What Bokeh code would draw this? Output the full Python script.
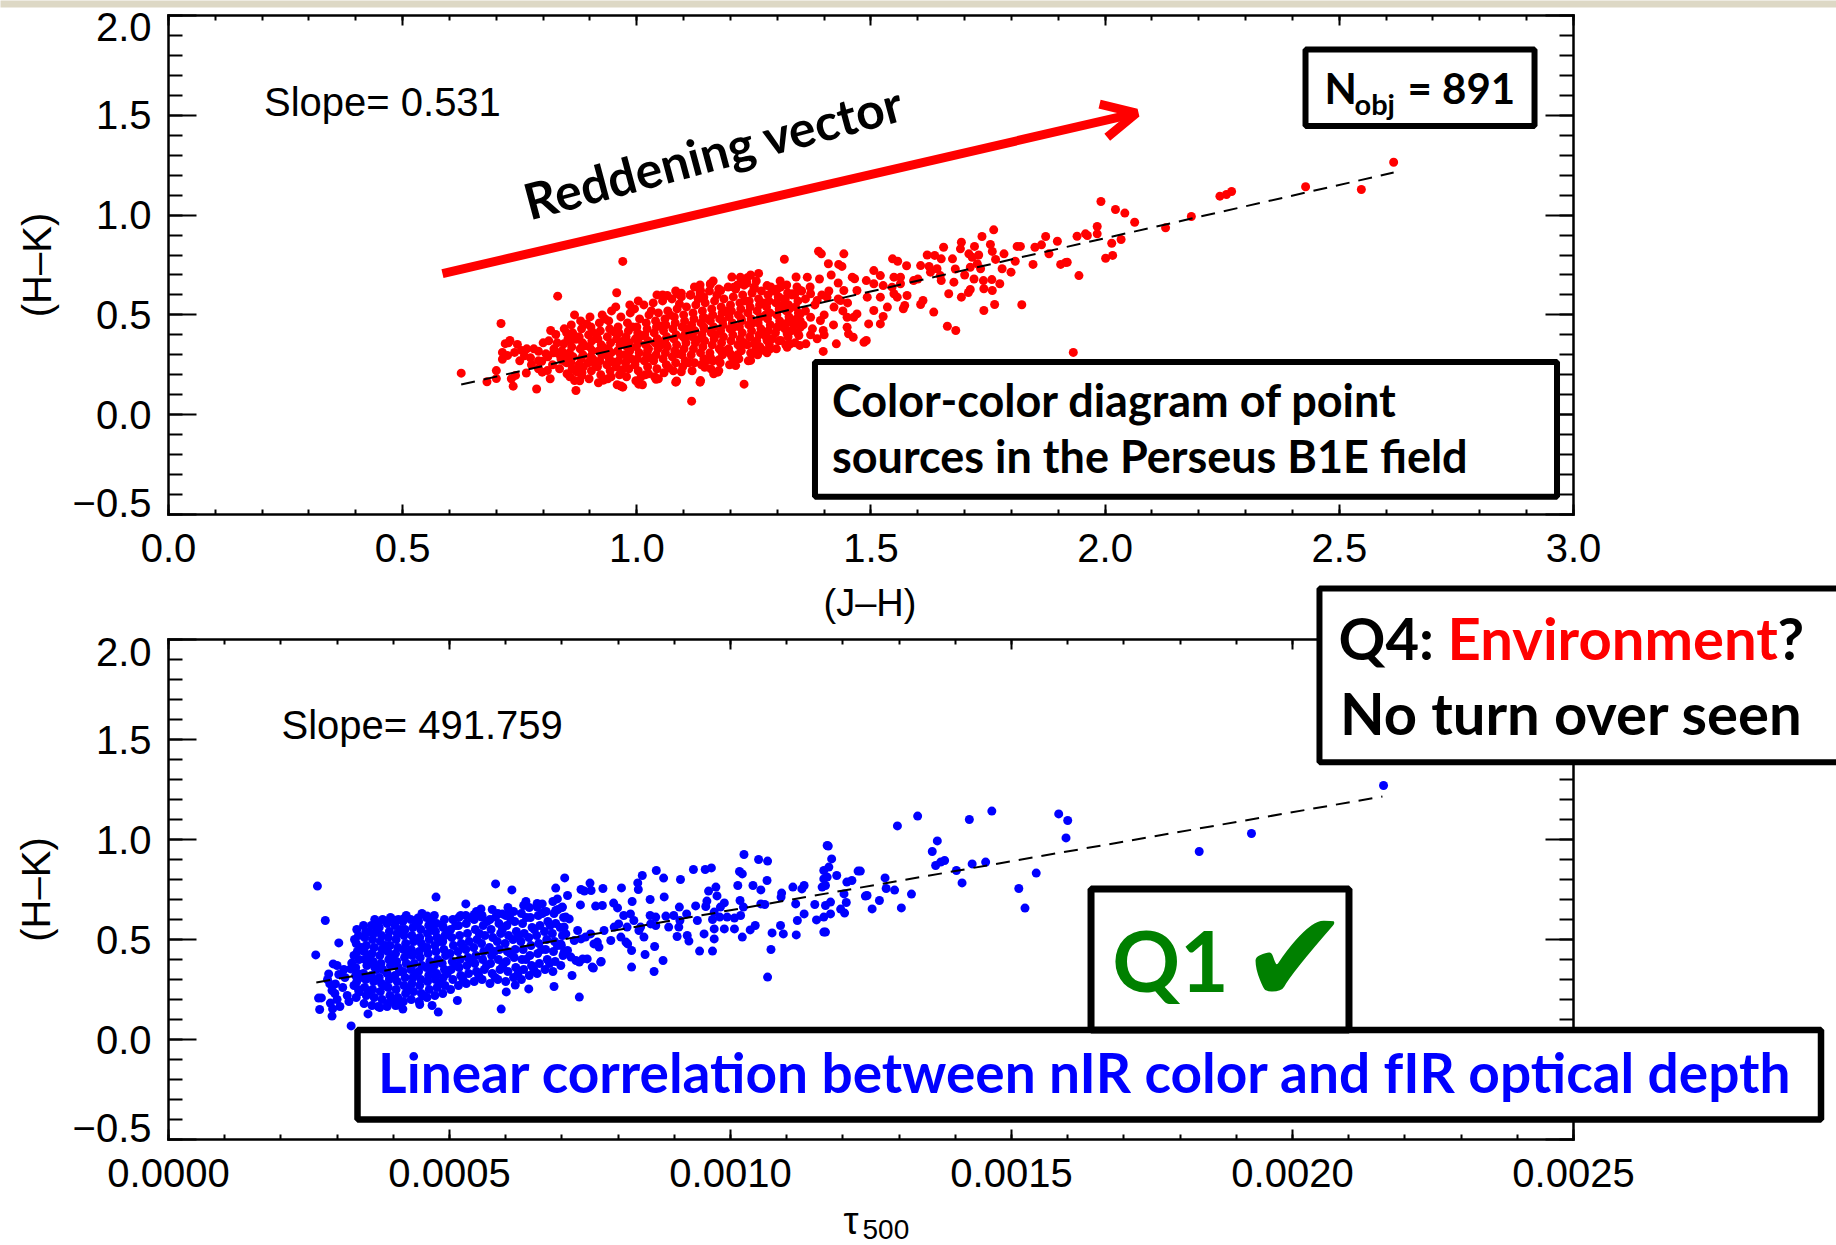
from bokeh.plotting import figure
from bokeh.models import (Range1d, LinearAxis, FixedTicker, CustomJSTickFormatter,
                          BoxAnnotation, Label, Arrow, OpenHead)
from bokeh.layouts import column
from bokeh.embed import file_html
from bokeh.resources import INLINE

# ---------------- data: top panel, (J-H) vs (H-K) ----------------
jh_tail = [
    (0.625, 0.208), (0.680, 0.165), (0.700, 0.221), (0.700, 0.181), (0.710, 0.457), (0.713, 0.278),
    (0.713, 0.312), (0.719, 0.356), (0.726, 0.360), (0.729, 0.372), (0.745, 0.352), (0.739, 0.312),
    (0.754, 0.322), (0.724, 0.297), (0.741, 0.197), (0.736, 0.143), (0.732, 0.180), (0.786, 0.129),
    (0.764, 0.209), (0.760, 0.295), (0.773, 0.285), (0.790, 0.318), (0.806, 0.305), (0.823, 0.330),
    (0.797, 0.268), (0.809, 0.221), (0.798, 0.213), (0.816, 0.422), (0.827, 0.402), (0.850, 0.410),
    (0.831, 0.594), (0.844, 0.355), (0.833, 0.305), (0.841, 0.272), (0.851, 0.205), (0.867, 0.171),
    (0.870, 0.121), (0.867, 0.500), (0.870, 0.378), (0.780, 0.330), (0.790, 0.270), (0.800, 0.360),
    (0.810, 0.290), (0.820, 0.250), (0.830, 0.360), (0.840, 0.320), (0.850, 0.260), (0.853, 0.380),
    (0.790, 0.230), (0.815, 0.180), (0.835, 0.230), (0.845, 0.430), (0.775, 0.250), (0.765, 0.330),
    (0.750, 0.270), (0.822, 0.310), (0.838, 0.280), (0.812, 0.370), (0.848, 0.300),
    (0.957, 0.611), (0.970, 0.768), (0.970, 0.138), (1.012, 0.150), (1.046, 0.180), (1.083, 0.163),
    (1.117, 0.068), (1.085, 0.169), (1.041, 0.177), (1.004, 0.153), (0.966, 0.144), (0.929, 0.173),
    (1.135, 0.163), (1.173, 0.213), (1.229, 0.153), (1.065, 0.597), (1.088, 0.606), (1.115, 0.601),
    (1.136, 0.622), (1.157, 0.652), (1.223, 0.679), (1.229, 0.649), (1.260, 0.708), (1.315, 0.779),
    (1.095, 0.609), (1.114, 0.599),
]

jh_core = [
    (0.857, 0.19), (0.862, 0.23), (0.859, 0.26), (0.864, 0.29), (0.856, 0.31), (0.861, 0.34), (0.858, 0.37),
    (0.863, 0.41), (0.860, 0.45), (0.855, 0.27),
    (0.878, 0.17), (0.883, 0.21), (0.876, 0.25), (0.881, 0.28), (0.885, 0.30), (0.879, 0.33), (0.884, 0.36),
    (0.877, 0.39), (0.882, 0.43), (0.880, 0.47), (0.886, 0.24),
    (0.898, 0.18), (0.903, 0.22), (0.896, 0.26), (0.901, 0.29), (0.905, 0.32), (0.899, 0.34), (0.904, 0.37),
    (0.897, 0.40), (0.902, 0.44), (0.900, 0.49), (0.906, 0.28),
    (0.918, 0.16), (0.923, 0.20), (0.916, 0.24), (0.921, 0.27), (0.925, 0.30), (0.919, 0.32), (0.924, 0.35),
    (0.917, 0.38), (0.922, 0.42), (0.920, 0.46), (0.926, 0.50),
    (0.938, 0.18), (0.943, 0.22), (0.936, 0.25), (0.941, 0.28), (0.945, 0.31), (0.939, 0.33), (0.944, 0.36),
    (0.937, 0.39), (0.942, 0.43), (0.940, 0.47), (0.946, 0.52), (0.935, 0.30),
    (0.958, 0.15), (0.963, 0.20), (0.956, 0.24), (0.961, 0.27), (0.965, 0.30), (0.959, 0.32), (0.964, 0.35),
    (0.957, 0.38), (0.962, 0.41), (0.960, 0.44), (0.966, 0.49), (0.955, 0.54),
    (0.978, 0.19), (0.983, 0.23), (0.976, 0.26), (0.981, 0.29), (0.985, 0.32), (0.979, 0.34), (0.984, 0.36),
    (0.977, 0.39), (0.982, 0.42), (0.980, 0.46), (0.986, 0.51), (0.975, 0.30),
    (0.998, 0.17), (1.003, 0.22), (0.996, 0.25), (1.001, 0.28), (1.005, 0.31), (0.999, 0.34), (1.004, 0.36),
    (0.997, 0.38), (1.002, 0.41), (1.000, 0.44), (1.006, 0.48), (0.995, 0.53), (1.003, 0.57),
    (1.018, 0.20), (1.023, 0.24), (1.016, 0.27), (1.021, 0.30), (1.025, 0.33), (1.019, 0.35), (1.024, 0.37),
    (1.017, 0.40), (1.022, 0.43), (1.020, 0.46), (1.026, 0.50), (1.015, 0.55), (1.023, 0.32),
    (1.038, 0.19), (1.043, 0.23), (1.036, 0.27), (1.041, 0.30), (1.045, 0.33), (1.039, 0.36), (1.044, 0.38),
    (1.037, 0.41), (1.042, 0.44), (1.040, 0.47), (1.046, 0.51), (1.035, 0.56), (1.043, 0.60),
    (1.058, 0.21), (1.063, 0.25), (1.056, 0.28), (1.061, 0.31), (1.065, 0.34), (1.059, 0.37), (1.064, 0.39),
    (1.057, 0.42), (1.062, 0.45), (1.060, 0.48), (1.066, 0.52), (1.055, 0.57), (1.063, 0.35),
    (1.078, 0.22), (1.083, 0.26), (1.076, 0.29), (1.081, 0.32), (1.085, 0.35), (1.079, 0.38), (1.084, 0.40),
    (1.077, 0.43), (1.082, 0.46), (1.080, 0.49), (1.086, 0.53), (1.075, 0.58), (1.083, 0.62),
    (1.098, 0.24), (1.103, 0.27), (1.096, 0.30), (1.101, 0.33), (1.105, 0.36), (1.099, 0.39), (1.104, 0.41),
    (1.097, 0.44), (1.102, 0.47), (1.100, 0.50), (1.106, 0.54), (1.095, 0.59), (1.103, 0.38),
    (1.118, 0.22), (1.123, 0.26), (1.116, 0.30), (1.121, 0.33), (1.125, 0.36), (1.119, 0.39), (1.124, 0.42),
    (1.117, 0.45), (1.122, 0.48), (1.120, 0.51), (1.126, 0.55), (1.115, 0.60), (1.123, 0.64),
    (1.138, 0.25), (1.143, 0.28), (1.136, 0.31), (1.141, 0.34), (1.145, 0.37), (1.139, 0.40), (1.144, 0.43),
    (1.137, 0.46), (1.142, 0.49), (1.140, 0.52), (1.146, 0.56), (1.135, 0.61), (1.143, 0.44),
    (1.158, 0.23), (1.163, 0.27), (1.156, 0.31), (1.161, 0.35), (1.165, 0.38), (1.159, 0.41), (1.164, 0.44),
    (1.157, 0.47), (1.162, 0.50), (1.160, 0.53), (1.166, 0.57), (1.155, 0.62), (1.163, 0.67),
    (1.178, 0.26), (1.183, 0.30), (1.176, 0.33), (1.181, 0.36), (1.185, 0.39), (1.179, 0.42), (1.184, 0.45),
    (1.177, 0.48), (1.182, 0.51), (1.180, 0.54), (1.186, 0.58), (1.175, 0.63), (1.183, 0.47),
    (1.198, 0.25), (1.203, 0.29), (1.196, 0.33), (1.201, 0.37), (1.205, 0.40), (1.199, 0.43), (1.204, 0.46),
    (1.197, 0.49), (1.202, 0.52), (1.200, 0.55), (1.206, 0.59), (1.195, 0.64), (1.203, 0.69),
    (1.218, 0.28), (1.223, 0.32), (1.216, 0.35), (1.221, 0.38), (1.225, 0.41), (1.219, 0.44), (1.224, 0.47),
    (1.217, 0.50), (1.222, 0.53), (1.220, 0.56), (1.226, 0.60), (1.215, 0.65), (1.223, 0.48),
    (1.238, 0.27), (1.243, 0.31), (1.236, 0.35), (1.241, 0.39), (1.245, 0.42), (1.239, 0.45), (1.244, 0.48),
    (1.237, 0.51), (1.242, 0.54), (1.240, 0.57), (1.246, 0.61), (1.235, 0.66), (1.243, 0.70),
    (1.258, 0.30), (1.263, 0.34), (1.256, 0.37), (1.261, 0.40), (1.265, 0.43), (1.259, 0.46), (1.264, 0.49),
    (1.257, 0.52), (1.262, 0.55), (1.260, 0.58), (1.266, 0.62), (1.255, 0.67),
    (1.278, 0.31), (1.283, 0.35), (1.276, 0.39), (1.281, 0.42), (1.285, 0.45), (1.279, 0.48), (1.284, 0.51),
    (1.277, 0.54), (1.282, 0.57), (1.280, 0.60), (1.286, 0.64), (1.275, 0.50),
    (1.298, 0.33), (1.303, 0.37), (1.296, 0.41), (1.301, 0.44), (1.305, 0.47), (1.299, 0.50), (1.304, 0.53),
    (1.297, 0.56), (1.302, 0.59), (1.300, 0.63), (1.306, 0.67),
    (1.318, 0.35), (1.323, 0.39), (1.316, 0.43), (1.321, 0.46), (1.325, 0.49), (1.319, 0.52), (1.324, 0.55),
    (1.317, 0.58), (1.322, 0.61), (1.320, 0.65), (1.326, 0.53),
    (1.338, 0.36), (1.343, 0.41), (1.336, 0.45), (1.341, 0.48), (1.345, 0.51), (1.339, 0.54), (1.344, 0.57),
    (1.337, 0.60), (1.342, 0.64), (1.340, 0.69),
]

jh_core_extra = [
    (0.871, 0.215), (0.889, 0.345), (0.893, 0.455), (0.911, 0.255), (0.914, 0.395), (0.929, 0.335),
    (0.932, 0.480), (0.948, 0.265), (0.951, 0.415), (0.969, 0.225), (0.972, 0.370), (0.988, 0.280),
    (0.991, 0.440), (1.009, 0.190), (1.011, 0.395), (1.028, 0.285), (1.031, 0.520), (1.049, 0.345),
    (1.051, 0.445), (1.068, 0.235), (1.071, 0.500), (1.089, 0.305), (1.091, 0.555), (1.108, 0.430),
    (1.111, 0.260), (1.129, 0.375), (1.131, 0.580), (1.149, 0.270), (1.151, 0.480), (1.168, 0.400),
    (1.171, 0.600), (1.189, 0.320), (1.191, 0.520), (1.208, 0.440), (1.211, 0.630), (1.229, 0.360),
    (1.231, 0.570), (1.248, 0.460), (1.251, 0.640), (1.268, 0.410), (1.271, 0.560), (1.289, 0.380),
    (1.291, 0.620), (1.309, 0.450), (1.311, 0.550), (1.329, 0.420), (1.331, 0.600), (1.349, 0.470),
    (1.352, 0.620), (0.882, 0.195), (0.905, 0.415), (0.945, 0.190), (0.985, 0.550), (1.025, 0.205),
    (1.055, 0.600), (1.095, 0.215), (1.135, 0.650), (1.175, 0.275), (1.215, 0.300), (1.255, 0.330),
]

jh_mid = [
    (1.388, 0.819), (1.394, 0.806), (1.442, 0.806), (1.409, 0.756), (1.431, 0.753), (1.438, 0.743),
    (1.546, 0.781), (1.557, 0.769), (1.576, 0.746), (1.655, 0.839), (1.636, 0.798), (1.650, 0.781),
    (1.674, 0.781), (1.693, 0.864), (1.691, 0.831), (1.709, 0.806), (1.606, 0.747), (1.624, 0.743),
    (1.641, 0.731), (1.627, 0.714), (1.648, 0.697), (1.650, 0.672), (1.677, 0.664), (1.666, 0.606),
    (1.693, 0.589), (1.708, 0.612), (1.611, 0.572), (1.606, 0.552), (1.634, 0.514), (1.663, 0.443),
    (1.681, 0.422), (1.569, 0.531), (1.572, 0.547), (1.577, 0.597), (1.506, 0.722), (1.520, 0.697),
    (1.549, 0.689), (1.563, 0.689), (1.460, 0.689), (1.465, 0.681), (1.463, 0.488), (1.495, 0.455),
    (1.520, 0.455), (1.526, 0.492), (1.485, 0.363), (1.490, 0.372), (1.462, 0.388), (1.452, 0.405),
    (1.449, 0.438), (1.426, 0.355), (1.428, 0.252), (1.398, 0.317), (1.398, 0.422), (1.371, 0.400),
    (1.361, 0.355), (1.346, 0.397), (1.348, 0.347), (1.328, 0.355), (1.321, 0.338), (1.285, 0.330),
    (1.271, 0.322), (1.264, 0.330), (1.243, 0.272), (1.246, 0.305), (1.211, 0.246), (1.164, 0.205),
    (1.175, 0.221), (1.145, 0.238), (1.136, 0.171),
    (1.490, 0.672), (1.506, 0.656), (1.526, 0.647), (1.545, 0.639), (1.563, 0.656), (1.591, 0.672),
    (1.549, 0.606), (1.520, 0.589), (1.492, 0.589), (1.470, 0.622), (1.442, 0.622), (1.435, 0.572),
    (1.421, 0.539), (1.406, 0.589), (1.385, 0.572), (1.371, 0.606), (1.364, 0.689), (1.349, 0.622),
    (1.332, 0.606), (1.307, 0.639), (1.304, 0.589), (1.278, 0.647), (1.250, 0.631), (1.221, 0.689),
    (1.236, 0.686), (1.207, 0.639), (1.179, 0.622), (1.157, 0.656), (1.143, 0.589), (1.449, 0.488),
    (1.470, 0.505), (1.506, 0.522), (1.535, 0.539), (1.556, 0.589), (1.392, 0.472), (1.371, 0.488),
    (1.349, 0.505), (1.328, 0.472), (1.349, 0.438), (1.321, 0.405), (1.300, 0.438), (1.307, 0.372),
    (1.278, 0.372), (1.250, 0.355), (1.221, 0.338), (1.200, 0.305), (1.179, 0.322), (1.157, 0.288),
    (1.207, 0.272), (1.360, 0.520), (1.380, 0.550), (1.400, 0.500), (1.410, 0.620), (1.420, 0.450),
    (1.430, 0.660), (1.440, 0.520), (1.370, 0.640), (1.390, 0.680), (1.415, 0.700), (1.355, 0.450),
    (1.375, 0.430), (1.395, 0.600), (1.430, 0.580), (1.450, 0.560), (1.360, 0.580), (1.400, 0.400),
    (1.385, 0.380),
]

jh_far = [
    (1.991, 1.068), (2.022, 1.028), (2.042, 1.010), (2.063, 0.964), (2.245, 1.095), (2.259, 1.103),
    (2.270, 1.118), (2.184, 0.993), (2.129, 0.936), (1.983, 0.943), (1.983, 0.906), (1.962, 0.898),
    (1.958, 0.906), (1.940, 0.894), (2.034, 0.878), (2.014, 0.859), (2.016, 0.798), (2.001, 0.784),
    (1.919, 0.764), (1.905, 0.753), (1.944, 0.697), (1.898, 0.869), (1.873, 0.893), (1.880, 0.806),
    (1.864, 0.851), (1.850, 0.839), (1.819, 0.843), (1.812, 0.843), (1.846, 0.753), (1.808, 0.769),
    (1.784, 0.806), (1.766, 0.778), (1.762, 0.926), (1.737, 0.893), (1.721, 0.843), (1.755, 0.853),
    (1.759, 0.818), (1.799, 0.714), (1.775, 0.656), (1.780, 0.731), (1.758, 0.677), (1.740, 0.672),
    (1.741, 0.631), (1.759, 0.622), (1.712, 0.627), (1.716, 0.789), (1.727, 0.756), (1.734, 0.731),
    (1.712, 0.739), (1.764, 0.552), (1.741, 0.522), (1.822, 0.551), (1.932, 0.312), (1.916, 0.763),
    (2.428, 1.142), (2.547, 1.128), (2.616, 1.265), (1.620, 0.800), (1.600, 0.680), (1.680, 0.730),
    (1.700, 0.700), (1.720, 0.680), (1.730, 0.800),
]

jh_fit_x = [0.625, 2.616]
jh_fit_y = [0.151, 1.213]

# ---------------- data: bottom panel, tau_500 vs (H-K) ----------------
tau_edge = [
    (0.000265, 0.767), (0.000279, 0.595), (0.000303, 0.483), (0.000262, 0.423), (0.000293, 0.378),
    (0.000300, 0.370), (0.000285, 0.328), (0.000303, 0.325), (0.000287, 0.278), (0.000291, 0.245),
    (0.000297, 0.278), (0.000267, 0.207), (0.000272, 0.208), (0.000269, 0.150), (0.000291, 0.117),
    (0.000292, 0.153), (0.000288, 0.182), (0.000326, 0.382), (0.000324, 0.353), (0.000321, 0.190),
    (0.000339, 0.237), (0.000325, 0.068), (0.000283, 0.300), (0.000296, 0.230), (0.000300, 0.200),
    (0.000310, 0.260), (0.000314, 0.310), (0.000318, 0.220), (0.000305, 0.165), (0.000312, 0.350),
    (0.000330, 0.270), (0.000333, 0.320), (0.000330, 0.420), (0.000331, 0.500),
    (0.000355, 0.128), (0.000373, 0.165), (0.000389, 0.165), (0.000407, 0.172), (0.000417, 0.152),
    (0.000447, 0.175), (0.000469, 0.170), (0.000480, 0.137), (0.000514, 0.195), (0.000592, 0.152),
    (0.000601, 0.238), (0.000617, 0.272), (0.000641, 0.253), (0.000686, 0.265),
    (0.000476, 0.712), (0.000582, 0.778), (0.000611, 0.748), (0.000689, 0.757), (0.000529, 0.678),
    (0.000556, 0.653), (0.000636, 0.690), (0.000656, 0.662), (0.000665, 0.678), (0.000668, 0.637),
    (0.000692, 0.703), (0.000689, 0.645), (0.000357, 0.537), (0.000373, 0.578), (0.000401, 0.598),
    (0.000418, 0.603), (0.000444, 0.608), (0.000460, 0.618), (0.000466, 0.598), (0.000487, 0.575),
    (0.000517, 0.612), (0.000529, 0.620), (0.000544, 0.625), (0.000557, 0.612), (0.000582, 0.612),
    (0.000594, 0.628), (0.000608, 0.637),
]

tau_core = [
    (0.000334, 0.21), (0.000338, 0.25), (0.000335, 0.29), (0.000337, 0.33), (0.000333, 0.36), (0.000339, 0.40),
    (0.000336, 0.44), (0.000334, 0.48), (0.000338, 0.52), (0.000335, 0.55),
    (0.000348, 0.18), (0.000352, 0.22), (0.000349, 0.26), (0.000351, 0.30), (0.000347, 0.33), (0.000353, 0.37),
    (0.000350, 0.40), (0.000348, 0.44), (0.000352, 0.47), (0.000349, 0.51), (0.000351, 0.54), (0.000347, 0.57),
    (0.000362, 0.17), (0.000366, 0.21), (0.000363, 0.25), (0.000365, 0.29), (0.000361, 0.32), (0.000367, 0.36),
    (0.000364, 0.39), (0.000362, 0.43), (0.000366, 0.46), (0.000363, 0.50), (0.000365, 0.53), (0.000361, 0.57),
    (0.000367, 0.60),
    (0.000376, 0.16), (0.000380, 0.20), (0.000377, 0.24), (0.000379, 0.28), (0.000375, 0.31), (0.000381, 0.35),
    (0.000378, 0.38), (0.000376, 0.42), (0.000380, 0.45), (0.000377, 0.49), (0.000379, 0.52), (0.000375, 0.56),
    (0.000381, 0.60),
    (0.000390, 0.18), (0.000394, 0.22), (0.000391, 0.26), (0.000393, 0.30), (0.000389, 0.33), (0.000395, 0.37),
    (0.000392, 0.40), (0.000390, 0.44), (0.000394, 0.47), (0.000391, 0.51), (0.000393, 0.54), (0.000389, 0.58),
    (0.000395, 0.61),
    (0.000404, 0.17), (0.000408, 0.21), (0.000405, 0.25), (0.000407, 0.29), (0.000403, 0.32), (0.000409, 0.36),
    (0.000406, 0.39), (0.000404, 0.43), (0.000408, 0.46), (0.000405, 0.50), (0.000407, 0.53), (0.000403, 0.57),
    (0.000409, 0.60),
    (0.000418, 0.19), (0.000422, 0.23), (0.000419, 0.27), (0.000421, 0.31), (0.000417, 0.34), (0.000423, 0.38),
    (0.000420, 0.41), (0.000418, 0.45), (0.000422, 0.48), (0.000419, 0.52), (0.000421, 0.55), (0.000417, 0.59),
    (0.000423, 0.62),
    (0.000432, 0.20), (0.000436, 0.24), (0.000433, 0.28), (0.000435, 0.31), (0.000431, 0.35), (0.000437, 0.38),
    (0.000434, 0.42), (0.000432, 0.45), (0.000436, 0.49), (0.000433, 0.52), (0.000435, 0.56), (0.000431, 0.60),
    (0.000446, 0.19), (0.000450, 0.23), (0.000447, 0.27), (0.000449, 0.30), (0.000445, 0.34), (0.000451, 0.37),
    (0.000448, 0.41), (0.000446, 0.44), (0.000450, 0.48), (0.000447, 0.51), (0.000449, 0.55), (0.000445, 0.59),
    (0.000451, 0.63),
    (0.000460, 0.21), (0.000464, 0.25), (0.000461, 0.29), (0.000463, 0.32), (0.000459, 0.36), (0.000465, 0.39),
    (0.000462, 0.43), (0.000460, 0.46), (0.000464, 0.50), (0.000461, 0.53), (0.000463, 0.57), (0.000459, 0.61),
    (0.000474, 0.22), (0.000478, 0.26), (0.000475, 0.30), (0.000477, 0.33), (0.000473, 0.37), (0.000479, 0.40),
    (0.000476, 0.44), (0.000474, 0.47), (0.000478, 0.51), (0.000475, 0.54), (0.000477, 0.58), (0.000473, 0.62),
    (0.000488, 0.23), (0.000492, 0.27), (0.000489, 0.31), (0.000491, 0.35), (0.000487, 0.38), (0.000493, 0.42),
    (0.000490, 0.45), (0.000488, 0.49), (0.000492, 0.52), (0.000489, 0.56), (0.000491, 0.60),
    (0.000502, 0.25), (0.000506, 0.30), (0.000503, 0.35), (0.000505, 0.39), (0.000501, 0.43), (0.000507, 0.47),
    (0.000504, 0.51), (0.000502, 0.55), (0.000506, 0.60),
    (0.000516, 0.27), (0.000520, 0.32), (0.000517, 0.36), (0.000519, 0.40), (0.000515, 0.44), (0.000521, 0.48),
    (0.000518, 0.52), (0.000516, 0.57), (0.000520, 0.62),
    (0.000530, 0.28), (0.000534, 0.33), (0.000531, 0.37), (0.000533, 0.41), (0.000529, 0.45), (0.000535, 0.49),
    (0.000532, 0.53), (0.000530, 0.58),
    (0.000544, 0.29), (0.000548, 0.34), (0.000545, 0.38), (0.000547, 0.42), (0.000543, 0.46), (0.000549, 0.50),
    (0.000546, 0.55), (0.000544, 0.60), (0.000548, 0.64),
    (0.000558, 0.30), (0.000562, 0.35), (0.000559, 0.40), (0.000561, 0.44), (0.000557, 0.48), (0.000563, 0.52),
    (0.000560, 0.57), (0.000558, 0.62),
    (0.000572, 0.28), (0.000576, 0.33), (0.000573, 0.38), (0.000575, 0.42), (0.000571, 0.46), (0.000577, 0.51),
    (0.000574, 0.55), (0.000572, 0.60), (0.000576, 0.65),
    (0.000586, 0.30), (0.000590, 0.35), (0.000587, 0.40), (0.000589, 0.45), (0.000585, 0.49), (0.000591, 0.53),
    (0.000588, 0.58), (0.000586, 0.63),
    (0.000600, 0.29), (0.000604, 0.34), (0.000601, 0.39), (0.000603, 0.44), (0.000599, 0.48), (0.000605, 0.52),
    (0.000602, 0.57), (0.000600, 0.62), (0.000604, 0.66),
    (0.000614, 0.31), (0.000618, 0.36), (0.000615, 0.41), (0.000617, 0.45), (0.000613, 0.50), (0.000619, 0.54),
    (0.000616, 0.59), (0.000614, 0.64),
    (0.000628, 0.30), (0.000632, 0.35), (0.000629, 0.40), (0.000631, 0.45), (0.000627, 0.49), (0.000633, 0.53),
    (0.000630, 0.58), (0.000628, 0.63), (0.000632, 0.67),
    (0.000642, 0.32), (0.000646, 0.37), (0.000643, 0.42), (0.000645, 0.47), (0.000641, 0.51), (0.000647, 0.56),
    (0.000644, 0.61), (0.000642, 0.66),
    (0.000656, 0.33), (0.000660, 0.38), (0.000657, 0.43), (0.000659, 0.48), (0.000655, 0.52), (0.000661, 0.57),
    (0.000658, 0.62), (0.000656, 0.68),
    (0.000670, 0.35), (0.000674, 0.40), (0.000671, 0.45), (0.000673, 0.50), (0.000669, 0.54), (0.000675, 0.59),
    (0.000672, 0.64),
    (0.000684, 0.34), (0.000688, 0.39), (0.000685, 0.44), (0.000687, 0.49), (0.000683, 0.53), (0.000689, 0.58),
    (0.000686, 0.63), (0.000684, 0.69),
    (0.000698, 0.37), (0.000702, 0.42), (0.000699, 0.47), (0.000701, 0.52), (0.000697, 0.56), (0.000703, 0.61),
    (0.000700, 0.66),
]

tau_core_extra = [
    (0.000341, 0.31), (0.000343, 0.46), (0.000356, 0.24), (0.000358, 0.42), (0.000370, 0.35), (0.000372, 0.55),
    (0.000384, 0.27), (0.000386, 0.47), (0.000398, 0.20), (0.000399, 0.41), (0.000412, 0.34), (0.000413, 0.55),
    (0.000426, 0.25), (0.000427, 0.44), (0.000440, 0.33), (0.000441, 0.58), (0.000454, 0.22), (0.000455, 0.46),
    (0.000468, 0.35), (0.000469, 0.56), (0.000482, 0.28), (0.000483, 0.49), (0.000496, 0.33), (0.000497, 0.54),
    (0.000510, 0.37), (0.000511, 0.57), (0.000524, 0.30), (0.000525, 0.46), (0.000538, 0.39), (0.000539, 0.61),
    (0.000552, 0.32), (0.000553, 0.53), (0.000566, 0.37), (0.000567, 0.59), (0.000580, 0.44), (0.000581, 0.31),
    (0.000594, 0.55), (0.000595, 0.37), (0.000608, 0.43), (0.000609, 0.60), (0.000622, 0.33), (0.000623, 0.52),
    (0.000636, 0.40), (0.000637, 0.61), (0.000650, 0.35), (0.000651, 0.55), (0.000664, 0.45), (0.000665, 0.63),
    (0.000678, 0.38), (0.000679, 0.57), (0.000692, 0.47), (0.000693, 0.65),
]

tau_mid = [
    (0.001024, 0.925), (0.001050, 0.900), (0.001066, 0.892), (0.000934, 0.850), (0.000955, 0.850),
    (0.000966, 0.858), (0.001016, 0.840), (0.001021, 0.828), (0.000868, 0.845), (0.000881, 0.807),
    (0.000843, 0.820), (0.000835, 0.783), (0.000836, 0.750), (0.000911, 0.800), (0.000705, 0.808),
    (0.000734, 0.750), (0.000740, 0.742), (0.000750, 0.782), (0.000752, 0.745), (0.000773, 0.755),
    (0.000806, 0.758), (0.001065, 0.795), (0.001040, 0.770), (0.001054, 0.748), (0.001013, 0.770),
    (0.000961, 0.742), (0.000974, 0.762), (0.000976, 0.718), (0.000958, 0.692), (0.000989, 0.683),
    (0.000982, 0.662), (0.000710, 0.720), (0.000733, 0.673), (0.000760, 0.667), (0.000772, 0.670),
    (0.000792, 0.682), (0.000799, 0.658), (0.000825, 0.690), (0.000857, 0.700), (0.000882, 0.713),
    (0.000909, 0.662), (0.000938, 0.668), (0.000956, 0.665), (0.001017, 0.695), (0.001023, 0.662),
    (0.001054, 0.678), (0.001061, 0.675), (0.001091, 0.732), (0.001090, 0.712), (0.001111, 0.762),
    (0.001127, 0.753), (0.001131, 0.770), (0.001116, 0.678), (0.001150, 0.675), (0.001166, 0.803),
    (0.001166, 0.845), (0.001172, 0.970), (0.001163, 0.762), (0.001119, 0.595), (0.001131, 0.628),
    (0.001153, 0.598), (0.001166, 0.612), (0.001166, 0.537), (0.001074, 0.533), (0.001089, 0.570),
    (0.001094, 0.528), (0.001117, 0.523), (0.001072, 0.450), (0.001066, 0.312), (0.001044, 0.570),
    (0.001035, 0.548), (0.001021, 0.512), (0.001007, 0.553), (0.000989, 0.553), (0.000971, 0.553),
    (0.000953, 0.528), (0.000971, 0.503), (0.000968, 0.442), (0.000945, 0.442), (0.000926, 0.492),
    (0.000923, 0.520), (0.000905, 0.515), (0.000908, 0.562), (0.000890, 0.562), (0.001018, 0.620),
    (0.001007, 0.607), (0.000994, 0.612), (0.000981, 0.612), (0.000971, 0.637), (0.000968, 0.600),
    (0.000941, 0.595), (0.000922, 0.628), (0.000910, 0.595), (0.000899, 0.620), (0.000885, 0.617),
    (0.000867, 0.612), (0.000857, 0.620), (0.000867, 0.570), (0.000858, 0.578), (0.000840, 0.562),
    (0.000828, 0.595), (0.000822, 0.628), (0.000810, 0.620), (0.000801, 0.578), (0.000816, 0.562),
    (0.000865, 0.465), (0.000848, 0.425), (0.000880, 0.395), (0.000864, 0.340), (0.000824, 0.445),
    (0.000824, 0.362), (0.000814, 0.487), (0.000787, 0.495), (0.000770, 0.390), (0.000756, 0.357),
    (0.000718, 0.320), (0.000731, 0.212), (0.000707, 0.612), (0.000713, 0.603), (0.000704, 0.562),
    (0.000707, 0.528), (0.000722, 0.495), (0.000728, 0.545), (0.000734, 0.503), (0.000742, 0.512),
    (0.000751, 0.528), (0.000757, 0.478), (0.000763, 0.487), (0.000698, 0.478), (0.000704, 0.437),
    (0.000710, 0.445), (0.000716, 0.412), (0.000725, 0.395), (0.000731, 0.387), (0.000737, 0.403),
    (0.000745, 0.403), (0.000754, 0.362), (0.000766, 0.462), (0.000769, 0.387), (0.000701, 0.662),
    (0.000775, 0.545), (0.000793, 0.562), (0.000805, 0.512), (0.000817, 0.478), (0.000837, 0.545),
    (0.000846, 0.512),
]

tau_far = [
    (0.001297, 1.068), (0.001333, 1.117), (0.001425, 1.100), (0.001465, 1.142), (0.001584, 1.128),
    (0.001600, 1.095), (0.001597, 1.008), (0.001368, 0.993), (0.001359, 0.940), (0.001365, 0.870),
    (0.001374, 0.887), (0.001381, 0.895), (0.001402, 0.845), (0.001412, 0.783), (0.001430, 0.878),
    (0.001454, 0.887), (0.001513, 0.755), (0.001524, 0.657), (0.001544, 0.832), (0.001275, 0.808),
    (0.001277, 0.755), (0.001292, 0.747), (0.001322, 0.727), (0.001304, 0.658), (0.001265, 0.695),
    (0.001252, 0.653), (0.001240, 0.717), (0.001243, 0.720), (0.001231, 0.842), (0.001227, 0.842),
    (0.001216, 0.795), (0.001207, 0.787), (0.001189, 0.820), (0.001206, 0.685), (0.001203, 0.632),
    (0.001196, 0.652), (0.001202, 0.728), (0.001174, 0.967), (0.001180, 0.903), (0.001175, 0.862),
    (0.001172, 0.812), (0.001169, 0.770), (0.001178, 0.687), (0.001178, 0.628), (0.001169, 0.537),
    (0.001169, 0.670), (0.001834, 0.940), (0.001927, 1.030), (0.002162, 1.270),
]

tau_fit_x = [0.000263, 0.002160]
tau_fit_y = [0.285, 1.215]

# ---------------- ticks ----------------
jh_ticks = [0.0, 0.5, 1.0, 1.5, 2.0, 2.5, 3.0]
tau_ticks = [0.0, 0.0005, 0.0010, 0.0015, 0.0020, 0.0025]
hk_ticks = [-0.5, 0.0, 0.5, 1.0, 1.5, 2.0]
hk_label_pos = [-0.44, 0.0, 0.5, 1.0, 1.5, 1.94]   # end labels sit inside the frame, as in the original
jh_minor = [round(0.1 * i, 1) for i in range(31)]
tau_minor = [round(0.0001 * i, 4) for i in range(26)]
hk_minor = [round(-0.5 + 0.1 * i, 1) for i in range(26)]

SANS = "Liberation Sans"
BOLD = "Lato"


def split(pts):
    return [p[0] for p in pts], [p[1] for p in pts]


def add_axis(p, side, loc, bounds, ticks, minor, tick_in, minor_in):
    ax = LinearAxis(fixed_location=loc, bounds=bounds, ticker=FixedTicker(ticks=ticks, minor_ticks=minor))
    ax.axis_line_color = "black"
    ax.axis_line_width = 2.5
    ax.axis_line_cap = "square"
    ax.major_tick_line_color = "black"
    ax.major_tick_line_width = 2
    ax.minor_tick_line_color = "black"
    ax.minor_tick_line_width = 2
    ax.major_tick_in = tick_in
    ax.major_tick_out = 0
    ax.minor_tick_in = minor_in
    ax.minor_tick_out = 0
    ax.major_label_text_color = None
    p.add_layout(ax, side)
    return ax


def label_axis(ax, fmt, standoff):
    ax.formatter = fmt
    ax.major_label_text_color = "black"
    ax.major_label_text_font = SANS
    ax.major_label_text_font_size = "40px"
    ax.major_label_standoff = standoff


def make_panel(height, xr, yr, x_end, xticks, xminor, digits):
    p = figure(width=1836, height=height, x_range=Range1d(*xr), y_range=Range1d(*yr),
               output_backend="svg", toolbar_location=None, title=None,
               x_axis_location=None, y_axis_location=None, min_border=0)
    p.grid.visible = False
    p.outline_line_color = None
    p.background_fill_color = "white"
    p.border_fill_color = "white"
    xb = add_axis(p, "below", -0.5, (0, x_end), xticks, xminor, 10, 5)
    label_axis(xb, CustomJSTickFormatter(code="return tick.toFixed(%d);" % digits), 19)
    add_axis(p, "above", 2.0, (0, x_end), xticks, xminor, 10, 5)
    add_axis(p, "left", 0.0, (-0.5, 2.0), hk_ticks, hk_minor, 28, 14)
    add_axis(p, "right", x_end, (-0.5, 2.0), hk_ticks, hk_minor, 28, 14)
    yl = LinearAxis(fixed_location=0.0, ticker=FixedTicker(ticks=hk_label_pos, minor_ticks=[]))
    yl.axis_line_color = None
    yl.major_tick_line_color = None
    yl.minor_tick_line_color = None
    label_axis(yl, CustomJSTickFormatter(
        code="return (Math.round(tick * 2) / 2).toFixed(1).replace('-', '\u2212');"), 11)
    p.add_layout(yl, "left")
    return p


def label(p, x, y, text, size, font=SANS, style="normal", color="black", align="left", angle=0.0):
    p.add_layout(Label(x=x, y=y, text=text, text_font=font, text_font_size="%dpx" % size,
                       text_font_style=style, text_color=color, text_align=align,
                       text_baseline="middle", angle=angle, angle_units="rad"))


def box(p, l, r, t, b, lw, fill="white", line="black"):
    p.add_layout(BoxAnnotation(left=l, right=r, top=t, bottom=b, fill_color=fill, fill_alpha=1,
                               line_color=line, line_alpha=1, line_width=lw))


# ---------------- top panel ----------------
p1 = make_panel(580, (-0.35872, 3.56159), (-0.83066, 2.07515), 3.0, jh_ticks, jh_minor, 1)
jx, jy = split(jh_tail + jh_core + jh_core_extra + jh_mid + jh_far)
p1.scatter(jx, jy, size=9, fill_color="#FF0000", line_color=None)
p1.line(jh_fit_x, jh_fit_y, line_color="black", line_width=2, line_dash="14 9")
box(p1, -0.5, 3.7, 2.3, 2.0401, 0, fill="#DDD8C5", line=None)
p1.add_layout(Arrow(end=OpenHead(size=34, line_color="#FF0000", line_width=9),
                    x_start=0.585, y_start=0.707, x_end=2.067, y_end=1.511,
                    line_color="#FF0000", line_width=9))
label(p1, -0.28185, 0.75, "(H–K)", 40, align="center", angle=1.5708)
label(p1, 0.7608, 1.0646, "Reddening vector", 50, BOLD, "bold", angle=0.2618)
label(p1, 0.2039, 1.5659, "Slope= 0.531", 40)
box(p1, 2.4278, 2.9168, 1.8297, 1.4464, 6)
label(p1, 2.4683, 1.6369, "N", 42, BOLD, "bold")
label(p1, 2.5324, 1.5571, "obj", 29, BOLD, "bold")
label(p1, 2.6456, 1.6369, "= 891", 42, BOLD, "bold")
box(p1, 1.3804, 2.9648, 0.2641, -0.4113, 6)
label(p1, 1.4165, 0.0731, "Color-color diagram of point", 45, BOLD, "bold")
label(p1, 1.4165, -0.2074, "sources in the Perseus B1E field", 45, BOLD, "bold")

# ---------------- bottom panel ----------------
p2 = make_panel(665, (-0.000298932, 0.002967972), (-1.03, 2.295), 0.0025, tau_ticks, tau_minor, 4)
tx, ty = split(tau_edge + tau_core + tau_core_extra + tau_mid + tau_far)
p2.scatter(tx, ty, size=9, fill_color="#0000FF", line_color=None)
p2.line(tau_fit_x, tau_fit_y, line_color="black", line_width=2, line_dash="14 9")
label(p2, 0.0012482, 2.181, "(J–H)", 38, align="center")
label(p2, -0.00023488, 0.75, "(H–K)", 40, align="center", angle=1.5708)
label(p2, 0.000201, 1.5703, "Slope= 491.759", 40)
label(p2, 0.0012011, -0.909, "τ", 38)
label(p2, 0.0012349, -0.949, "500", 28)
box(p2, 0.002048, 0.0031, 2.255, 1.386, 6)
label(p2, 0.0020819, 2.011, "Q4:", 58, BOLD, "bold")
label(p2, 0.0022758, 2.011, "Environment", 58, BOLD, "bold", color="#FF0000")
label(p2, 0.0028630, 2.011, "?", 58, BOLD, "bold")
label(p2, 0.0020845, 1.633, "No turn over seen", 58, BOLD, "bold")
box(p2, 0.0003363, 0.0029404, 0.0475, -0.40, 6.5)
box(p2, 0.0016415, 0.0021005, 0.7525, 0.0475, 7)
label(p2, 0.0016792, 0.3985, "Q1", 84, BOLD, "bold", color="#008000")
label(p2, 0.0019075, 0.41, "✔", 130, "DejaVu Sans", "normal", color="#008000")
label(p2, 0.00037295, -0.1645, "Linear correlation between nIR color and fIR optical depth", 55, BOLD, "bold",
      color="#0000FF")

layout = column(p1, p2)
open("out.html", "w").write(file_html(layout, INLINE))
